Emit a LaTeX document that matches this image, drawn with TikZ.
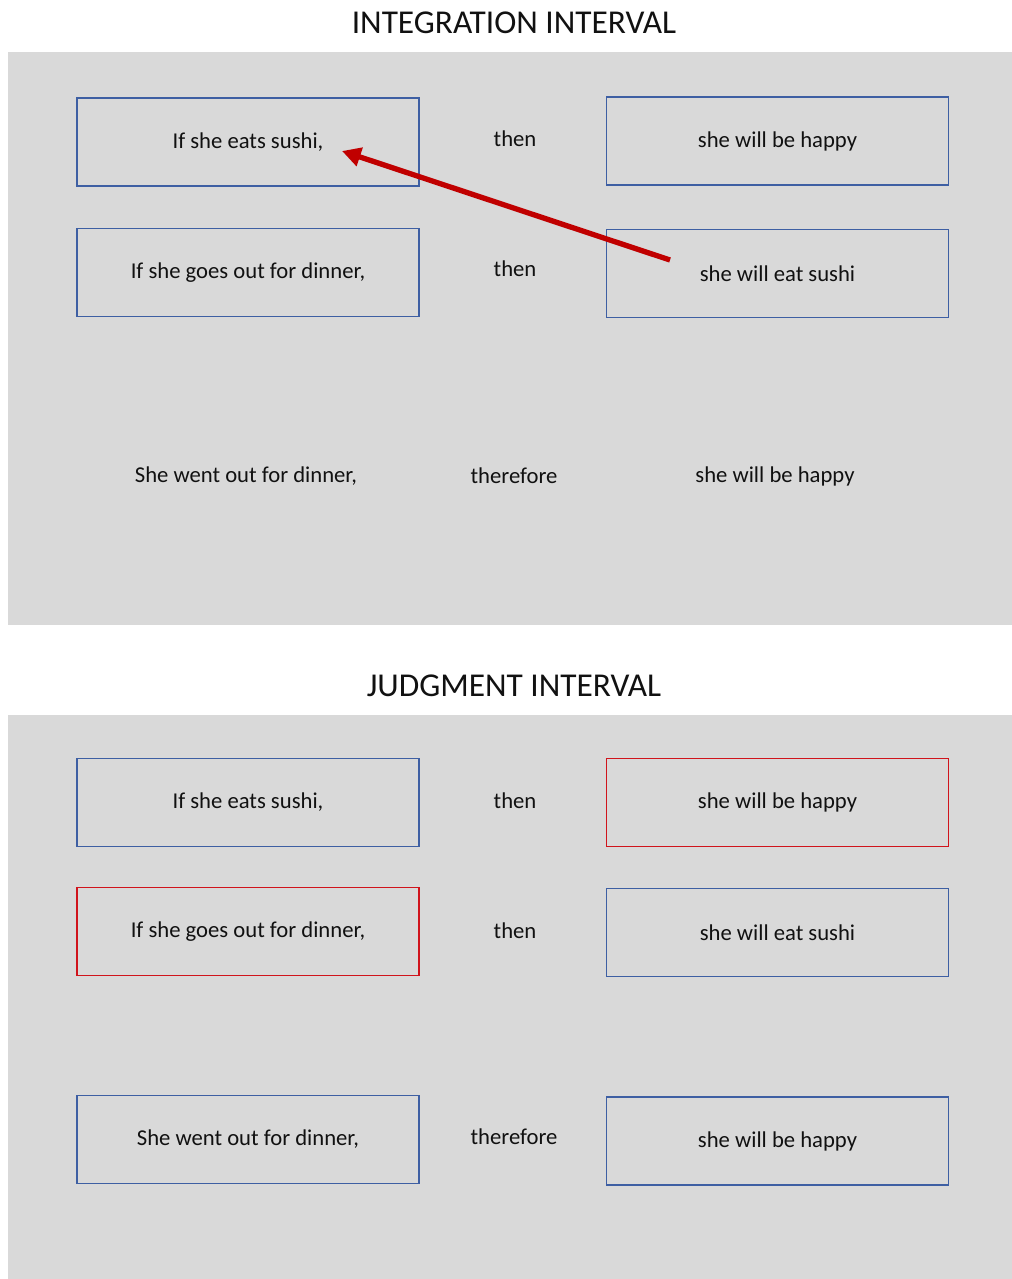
\documentclass[tikz,border=0pt]{standalone}
\usepackage{fontspec}
\setmainfont{Carlito}
\usetikzlibrary{arrows.meta}
\definecolor{panelgray}{HTML}{D9D9D9}
\definecolor{boxblue}{HTML}{3E5FA3}
\definecolor{boxred}{HTML}{D0141C}
\definecolor{arrowred}{HTML}{C00000}
\definecolor{inktext}{HTML}{111111}
\tikzset{
  panel/.style={fill=panelgray, draw=none},
  heading/.style={font=\fontsize{25}{28}\selectfont, text=inktext, inner sep=0pt},
  word/.style={font=\fontsize{17}{19}\selectfont, text=inktext, inner sep=0pt},
  stmt/.style={word, draw=boxblue, line width=1.4pt, minimum width=256.5pt, minimum height=66pt},
  stmtred/.style={stmt, draw=boxred},
  plain/.style={word},
  link/.style={draw=arrowred, line width=4pt, -{Triangle[length=14pt,width=14pt]}}
}
\begin{document}
\begin{tikzpicture}[x=0.75pt, y=-0.75pt]
  \useasboundingbox (0,0) rectangle (1012,1279);
  \fill[white] (0,0) rectangle (1012,1279);

  % upper panel
  \node[heading] (t1) at (514,23) {INTEGRATION INTERVAL};
  \path[panel] (8,52) rectangle (1012,625);
  \node[stmt] (a1) at (248,142) {If she eats sushi,};
  \node[plain] (c1) at (515,139) {then};
  \node[stmt] (b1) at (777.5,141) {she will be happy};
  \node[stmt] (a2) at (248,272.5) {If she goes out for dinner,};
  \node[plain] (c2) at (515,269) {then};
  \node[stmt] (b2) at (777.5,273.5) {she will eat sushi};
  \node[plain] (a3) at (246,476) {She went out for dinner,};
  \node[plain] (c3) at (514,476) {therefore};
  \node[plain] (b3) at (775,476) {she will be happy};

  % arrow from the consequent back to the antecedent
  \coordinate (arrTail) at (670,260);
  \coordinate (arrHead) at (342,151);
  \draw[link] (arrTail) -- (arrHead);

  % lower panel
  \node[heading] (t2) at (514,686) {JUDGMENT INTERVAL};
  \path[panel] (8,715) rectangle (1012,1279);
  \node[stmt] (d1) at (248,802.5) {If she eats sushi,};
  \node[plain] (e1) at (515,801) {then};
  \node[stmtred] (f1) at (777.5,802.5) {she will be happy};
  \node[stmtred] (d2) at (248,931.5) {If she goes out for dinner,};
  \node[plain] (e2) at (515,931) {then};
  \node[stmt] (f2) at (777.5,932.5) {she will eat sushi};
  \node[stmt] (d3) at (248,1139.5) {She went out for dinner,};
  \node[plain] (e3) at (514,1137) {therefore};
  \node[stmt] (f3) at (777.5,1141) {she will be happy};
\end{tikzpicture}
\end{document}
